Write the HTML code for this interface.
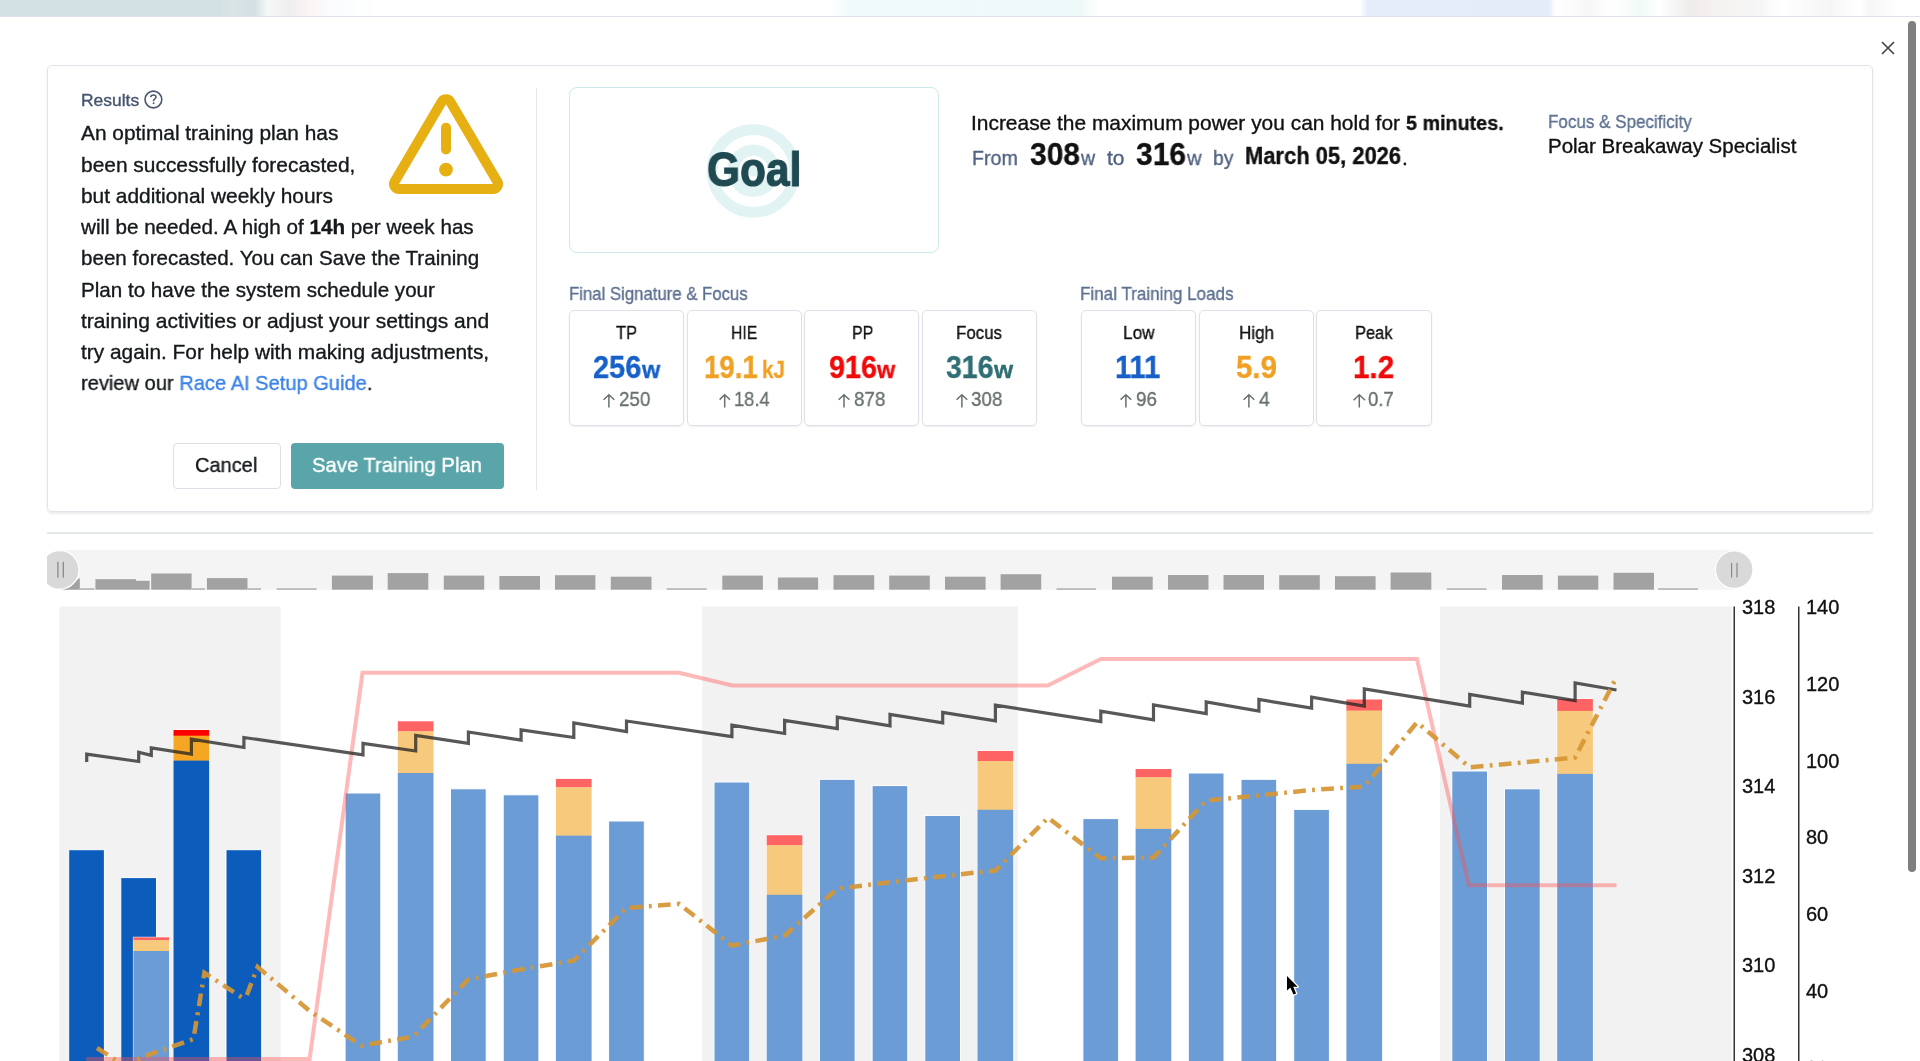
<!DOCTYPE html><html><head><meta charset="utf-8"><style>
*{margin:0;padding:0;box-sizing:border-box}
html,body{width:1920px;height:1061px;overflow:hidden;background:#fff;font-family:"Liberation Sans",sans-serif}
.t{position:absolute;white-space:pre;line-height:1;transform-origin:0 50%;will-change:transform;-webkit-text-stroke-width:0.35px}
.a{position:absolute}
b{font-weight:700}
</style></head><body>

<div class="a" style="left:0;top:0;width:1920px;height:16px;background:linear-gradient(90deg,#d3e0e4 0,#d3e0e4 218px,#d9e5e4 232px,#d3e0e4 255px,#f6f8f8 268px,#efeeee 290px,#fbf5f5 310px,#fafcfd 330px,#fff 380px,#fff 830px,#f1fafa 850px,#eef9f9 1080px,#fff 1100px,#fff 1360px,#e4edf9 1368px,#e3ecf8 1548px,#fff 1556px,#f7f7f7 1590px,#fff 1610px,#f2faf6 1640px,#fff 1660px,#efeceb 1690px,#f5f3f2 1720px,#f6f6f6 1760px,#fff 1780px,#f6f6f6 1830px,#fff 1860px,#f7f7f7 1870px,#fff 1900px)"></div>
<div class="a" style="left:0;top:16px;width:1920px;height:1px;background:#e2e1e9"></div>

<div class="a" style="left:1908px;top:21px;width:8px;height:851px;border-radius:4px;background:#7f7f7f"></div>
<svg class="a" style="left:1880px;top:40px" width="16" height="16" viewBox="0 0 16 16"><path d="M2 2L14 14M14 2L2 14" stroke="#3b4446" stroke-width="1.6"/></svg>
<div class="a" style="left:47px;top:65px;width:1826px;height:447px;border:1px solid #e2e4ea;border-radius:5px;box-shadow:0 1.5px 2.5px rgba(0,0,0,0.08)"></div>
<div class="a" style="left:536px;top:88px;width:1px;height:402px;background:#e3e6ea"></div>
<div class="t" style="left:80.60px;top:92.13px;font-size:16.5px;color:#45546e;transform:scaleX(1.0567);">Results</div>
<svg class="a" style="left:143px;top:89px" width="21" height="21" viewBox="0 0 21 21"><circle cx="10.4" cy="10.5" r="8.4" fill="none" stroke="#4a5670" stroke-width="1.6"/><path d="M7.6 8.2C7.8 6.7 9 5.9 10.4 5.9C11.9 5.9 13 6.8 13 8.1C13 9.6 11.2 10 10.6 11.3V12.3" fill="none" stroke="#4a5670" stroke-width="1.5"/><circle cx="10.6" cy="14.3" r="0.95" fill="#4a5670"/></svg>
<div class="t" style="left:80.50px;top:123.33px;font-size:20.4px;color:#15191c;transform:scaleX(1.0227);">An optimal training plan has</div>
<div class="t" style="left:80.50px;top:154.59px;font-size:20.4px;color:#15191c;transform:scaleX(1.0258);">been successfully forecasted,</div>
<div class="t" style="left:80.50px;top:185.85px;font-size:20.4px;color:#15191c;transform:scaleX(1.0241);">but additional weekly hours</div>
<div class="t" style="left:80.55px;top:217.11px;font-size:20.4px;color:#15191c;transform:scaleX(1.0129);">will be needed. A high of <b>14h</b> per week has</div>
<div class="t" style="left:80.50px;top:248.37px;font-size:20.4px;color:#15191c;transform:scaleX(1.0091);">been forecasted. You can Save the Training</div>
<div class="t" style="left:80.50px;top:279.63px;font-size:20.4px;color:#15191c;transform:scaleX(1.0105);">Plan to have the system schedule your</div>
<div class="t" style="left:80.50px;top:310.89px;font-size:20.4px;color:#15191c;transform:scaleX(1.0317);">training activities or adjust your settings and</div>
<div class="t" style="left:80.50px;top:342.15px;font-size:20.4px;color:#15191c;transform:scaleX(1.0230);">try again. For help with making adjustments,</div>
<div class="t" style="left:80.50px;top:373.41px;font-size:20.4px;color:#15191c;transform:scaleX(0.9850);">review our <span style="color:#3b82e6">Race AI Setup Guide</span>.</div>
<svg class="a" style="left:385px;top:90px" width="124" height="110" viewBox="385 90 124 110">
<path d="M450.31 101.82 L497.26 181.56 A5 5 0 0 1 492.95 189.10 L399.05 189.10 A5 5 0 0 1 394.74 181.56 L441.69 101.82 A5 5 0 0 1 450.31 101.82Z" fill="none" stroke="#e6b012" stroke-width="10"/>
<rect x="441" y="122.8" width="10" height="31.7" rx="5" fill="#e6b012"/>
<circle cx="446" cy="169.6" r="6.9" fill="#e6b012"/>
</svg>
<div class="a" style="left:172.5px;top:442.5px;width:108px;height:46px;border:1px solid #dcdfe4;border-radius:4px;background:#fff"></div>
<div class="t" style="left:195.20px;top:454.53px;font-size:20.4px;color:#15191c;transform:scaleX(0.9812);">Cancel</div>
<div class="a" style="left:291.4px;top:442.5px;width:212.6px;height:46px;border-radius:4px;background:#5aa5a9"></div>
<div class="t" style="left:312.20px;top:454.53px;font-size:20.4px;color:#ffffff;transform:scaleX(0.9932);">Save Training Plan</div>
<div class="a" style="left:568.5px;top:87.3px;width:370px;height:166.2px;border:1px solid #cdeaea;border-radius:8px"></div>
<svg class="a" style="left:700px;top:118px" width="110" height="110" viewBox="700 118 110 110">
<circle cx="753.4" cy="171" r="41.3" fill="none" stroke="#e2f3f3" stroke-width="10.8"/>
<circle cx="753.4" cy="170.6" r="20.5" fill="none" stroke="#e2f3f3" stroke-width="11.4"/>
<circle cx="753.4" cy="170.6" r="6" fill="#e2f3f3"/>
</svg>
<div class="t" style="left:706.60px;top:145.89px;font-size:47.5px;color:#1f4a52;font-weight:700;transform:scaleX(0.8923);-webkit-text-stroke:1.2px #1f4a52;">Goal</div>
<div class="t" style="left:971.10px;top:112.82px;font-size:20.3px;color:#111;transform:scaleX(1.0313);">Increase the maximum power you can hold for</div>
<div class="t" style="left:1405.60px;top:112.62px;font-size:20.3px;color:#111;font-weight:700;transform:scaleX(0.9733);">5 minutes.</div>
<div class="t" style="left:971.60px;top:147.12px;font-size:21px;color:#4f6180;transform:scaleX(0.9371);">From</div>
<div class="t" style="left:1030.20px;top:137.64px;font-size:32.2px;color:#111;font-weight:700;transform:scaleX(0.9312);">308</div>
<div class="t" style="left:1081.05px;top:147.12px;font-size:21px;color:#4f6180;transform:scaleX(0.9295);">w</div>
<div class="t" style="left:1106.50px;top:147.12px;font-size:21px;color:#4f6180;transform:scaleX(0.9980);">to</div>
<div class="t" style="left:1135.90px;top:137.64px;font-size:32.2px;color:#111;font-weight:700;transform:scaleX(0.9312);">316</div>
<div class="t" style="left:1186.65px;top:147.12px;font-size:21px;color:#4f6180;transform:scaleX(0.9622);">w</div>
<div class="t" style="left:1212.90px;top:147.12px;font-size:21px;color:#4f6180;transform:scaleX(0.9208);">by</div>
<div class="t" style="left:1245.20px;top:145.08px;font-size:23.3px;color:#111;font-weight:700;transform:scaleX(0.9416);">March 05, 2026</div>
<div class="t" style="left:1402.00px;top:147.02px;font-size:21px;color:#111;">.</div>
<div class="t" style="left:1547.50px;top:112.42px;font-size:19px;color:#5d7090;transform:scaleX(0.8956);">Focus & Specificity</div>
<div class="t" style="left:1547.50px;top:136.52px;font-size:19.7px;color:#111;transform:scaleX(1.0410);">Polar Breakaway Specialist</div>
<div class="t" style="left:568.90px;top:285.46px;font-size:18.6px;color:#5d7090;transform:scaleX(0.9002);">Final Signature & Focus</div>
<div class="t" style="left:1080.30px;top:285.06px;font-size:18.6px;color:#5d7090;transform:scaleX(0.9171);">Final Training Loads</div>
<div class="a" style="left:568.8px;top:310px;width:115.6px;height:115.6px;border:1px solid #dde1e7;border-radius:5px;box-shadow:0 1px 2px rgba(0,0,0,0.07)"></div>
<div class="t" style="left:616.25px;top:323.67px;font-size:18.7px;color:#111;transform:scaleX(0.8791);">TP</div>
<div class="t" style="left:593.10px;top:351.97px;font-size:31.7px;color:#1660c8;font-weight:700;transform:scaleX(0.9156);">256</div>
<div class="t" style="left:642.32px;top:358.48px;font-size:24px;color:#1660c8;font-weight:700;transform:scaleX(0.9766);">w</div>
<svg class="a" style="left:601.1px;top:391.5px" width="15.9" height="17.5" viewBox="601.1 391.5 15.9 17.5"><path d="M609.0 407.0V394.3M603.7 399.2L609.0 394.3L614.4 399.2" fill="none" stroke="#67706e" stroke-width="1.5"/></svg>
<div class="t" style="left:618.75px;top:388.59px;font-size:20.8px;color:#67706e;transform:scaleX(0.9010);">250</div>
<div class="a" style="left:686.5px;top:310px;width:115.4px;height:115.6px;border:1px solid #dde1e7;border-radius:5px;box-shadow:0 1px 2px rgba(0,0,0,0.07)"></div>
<div class="t" style="left:731.25px;top:323.67px;font-size:18.7px;color:#111;transform:scaleX(0.8418);">HIE</div>
<div class="t" style="left:704.40px;top:351.97px;font-size:31.7px;color:#f0a125;font-weight:700;transform:scaleX(0.8731);">19.1</div>
<div class="t" style="left:762.20px;top:358.48px;font-size:24px;color:#f0a125;font-weight:700;transform:scaleX(0.8633);">kJ</div>
<svg class="a" style="left:716.5px;top:391.5px" width="15.5" height="17.5" viewBox="716.5 391.5 15.5 17.5"><path d="M724.2 407.0V394.3M719.1 399.1L724.2 394.3L729.4 399.1" fill="none" stroke="#67706e" stroke-width="1.5"/></svg>
<div class="t" style="left:734.40px;top:388.59px;font-size:20.8px;color:#67706e;transform:scaleX(0.8788);">18.4</div>
<div class="a" style="left:804.4px;top:310px;width:115.0px;height:115.6px;border:1px solid #dde1e7;border-radius:5px;box-shadow:0 1px 2px rgba(0,0,0,0.07)"></div>
<div class="t" style="left:851.50px;top:323.67px;font-size:18.7px;color:#111;transform:scaleX(0.8512);">PP</div>
<div class="t" style="left:828.50px;top:351.97px;font-size:31.7px;color:#f00a0a;font-weight:700;transform:scaleX(0.9081);">916</div>
<div class="t" style="left:877.32px;top:358.48px;font-size:24px;color:#f00a0a;font-weight:700;transform:scaleX(0.9766);">w</div>
<svg class="a" style="left:836.0px;top:391.5px" width="16.0" height="17.5" viewBox="836.0 391.5 16.0 17.5"><path d="M844.0 407.0V394.3M838.6 399.3L844.0 394.3L849.4 399.3" fill="none" stroke="#67706e" stroke-width="1.5"/></svg>
<div class="t" style="left:853.75px;top:388.59px;font-size:20.8px;color:#67706e;transform:scaleX(0.9010);">878</div>
<div class="a" style="left:921.5px;top:310px;width:115.4px;height:115.6px;border:1px solid #dde1e7;border-radius:5px;box-shadow:0 1px 2px rgba(0,0,0,0.07)"></div>
<div class="t" style="left:956.25px;top:323.67px;font-size:18.7px;color:#111;transform:scaleX(0.9035);">Focus</div>
<div class="t" style="left:945.60px;top:351.97px;font-size:31.7px;color:#2f6e74;font-weight:700;transform:scaleX(0.8986);">316</div>
<div class="t" style="left:993.92px;top:358.48px;font-size:24px;color:#2f6e74;font-weight:700;transform:scaleX(1.0244);">w</div>
<svg class="a" style="left:953.6px;top:391.5px" width="15.9" height="17.5" viewBox="953.6 391.5 15.9 17.5"><path d="M961.5 407.0V394.3M956.2 399.2L961.5 394.3L966.9 399.2" fill="none" stroke="#67706e" stroke-width="1.5"/></svg>
<div class="t" style="left:971.25px;top:388.59px;font-size:20.8px;color:#67706e;transform:scaleX(0.9010);">308</div>
<div class="a" style="left:1080.6px;top:310px;width:115.9px;height:115.6px;border:1px solid #dde1e7;border-radius:5px;box-shadow:0 1px 2px rgba(0,0,0,0.07)"></div>
<div class="t" style="left:1123.10px;top:323.67px;font-size:18.7px;color:#111;transform:scaleX(0.9211);">Low</div>
<div class="t" style="left:1114.75px;top:351.97px;font-size:31.7px;color:#1660c8;font-weight:700;transform:scaleX(0.9165);">111</div>
<svg class="a" style="left:1118.2px;top:391.5px" width="15.7" height="17.5" viewBox="1118.2 391.5 15.7 17.5"><path d="M1126.1 407.0V394.3M1120.8 399.1L1126.1 394.3L1131.3 399.1" fill="none" stroke="#67706e" stroke-width="1.5"/></svg>
<div class="t" style="left:1135.90px;top:388.59px;font-size:20.8px;color:#67706e;transform:scaleX(0.9075);">96</div>
<div class="a" style="left:1198.8px;top:310px;width:115.0px;height:115.6px;border:1px solid #dde1e7;border-radius:5px;box-shadow:0 1px 2px rgba(0,0,0,0.07)"></div>
<div class="t" style="left:1238.75px;top:323.67px;font-size:18.7px;color:#111;transform:scaleX(0.9097);">High</div>
<div class="t" style="left:1235.60px;top:351.97px;font-size:31.7px;color:#f0a125;font-weight:700;transform:scaleX(0.9282);">5.9</div>
<svg class="a" style="left:1241.1px;top:391.5px" width="15.9" height="17.5" viewBox="1241.1 391.5 15.9 17.5"><path d="M1249.0 407.0V394.3M1243.7 399.3L1249.0 394.3L1254.4 399.3" fill="none" stroke="#67706e" stroke-width="1.5"/></svg>
<div class="t" style="left:1258.50px;top:388.59px;font-size:20.8px;color:#67706e;transform:scaleX(0.9442);">4</div>
<div class="a" style="left:1316.2px;top:310px;width:116.0px;height:115.6px;border:1px solid #dde1e7;border-radius:5px;box-shadow:0 1px 2px rgba(0,0,0,0.07)"></div>
<div class="t" style="left:1355.00px;top:323.67px;font-size:18.7px;color:#111;transform:scaleX(0.8809);">Peak</div>
<div class="t" style="left:1353.40px;top:351.97px;font-size:31.7px;color:#f00a0a;font-weight:700;transform:scaleX(0.9350);">1.2</div>
<svg class="a" style="left:1350.6px;top:391.5px" width="16.7" height="17.5" viewBox="1350.6 391.5 16.7 17.5"><path d="M1358.9 407.0V394.3M1353.2 399.7L1358.9 394.3L1364.7 399.7" fill="none" stroke="#67706e" stroke-width="1.5"/></svg>
<div class="t" style="left:1368.40px;top:388.59px;font-size:20.8px;color:#67706e;transform:scaleX(0.8924);">0.7</div>
<div class="a" style="left:47px;top:532px;width:1826px;height:2px;background:#e3e8eb"></div>
<svg class="a" style="left:0;top:0" width="1920" height="1061" viewBox="0 0 1920 1061"><defs><clipPath id="clipL"><rect x="47" y="540" width="60" height="60"/></clipPath></defs><rect x="60" y="550" width="1674" height="39.7" fill="#f4f4f4"/><rect x="95.4" y="579.2" width="40.6" height="10.5" fill="#a2a2a2"/><rect x="136.0" y="580.8" width="13.6" height="8.9" fill="#a2a2a2"/><rect x="151.2" y="573.5" width="40.4" height="16.2" fill="#a2a2a2"/><rect x="206.9" y="578.1" width="40.6" height="11.6" fill="#a2a2a2"/><rect x="331.9" y="575.6" width="41.0" height="14.1" fill="#a2a2a2"/><rect x="387.7" y="573.1" width="40.6" height="16.6" fill="#a2a2a2"/><rect x="443.8" y="575.6" width="40.4" height="14.1" fill="#a2a2a2"/><rect x="499.4" y="576.0" width="40.6" height="13.7" fill="#a2a2a2"/><rect x="555.0" y="575.2" width="40.4" height="14.5" fill="#a2a2a2"/><rect x="610.8" y="576.7" width="40.7" height="13.0" fill="#a2a2a2"/><rect x="722.3" y="575.6" width="40.6" height="14.1" fill="#a2a2a2"/><rect x="777.9" y="577.5" width="40.2" height="12.2" fill="#a2a2a2"/><rect x="833.5" y="575.2" width="40.7" height="14.5" fill="#a2a2a2"/><rect x="889.2" y="575.6" width="40.6" height="14.1" fill="#a2a2a2"/><rect x="945.0" y="576.7" width="40.6" height="13.0" fill="#a2a2a2"/><rect x="1000.6" y="574.2" width="40.6" height="15.5" fill="#a2a2a2"/><rect x="1112.0" y="576.7" width="40.7" height="13.0" fill="#a2a2a2"/><rect x="1168.0" y="575.0" width="40.5" height="14.7" fill="#a2a2a2"/><rect x="1223.5" y="575.0" width="40.5" height="14.7" fill="#a2a2a2"/><rect x="1279.2" y="575.2" width="40.6" height="14.5" fill="#a2a2a2"/><rect x="1335.0" y="576.2" width="40.6" height="13.5" fill="#a2a2a2"/><rect x="1390.6" y="572.5" width="40.7" height="17.2" fill="#a2a2a2"/><rect x="1502.0" y="575.0" width="40.7" height="14.7" fill="#a2a2a2"/><rect x="1557.9" y="575.6" width="40.4" height="14.1" fill="#a2a2a2"/><rect x="1613.5" y="572.8" width="40.5" height="16.9" fill="#a2a2a2"/><rect x="80.0" y="588.4" width="14.4" height="1.3" fill="#a2a2a2"/><rect x="191.7" y="588.4" width="13.1" height="1.3" fill="#a2a2a2"/><rect x="247.5" y="588.4" width="13.5" height="1.3" fill="#a2a2a2"/><rect x="276.7" y="588.4" width="40.0" height="1.3" fill="#a2a2a2"/><rect x="666.7" y="588.4" width="40.0" height="1.3" fill="#a2a2a2"/><rect x="1056.5" y="588.4" width="39.5" height="1.3" fill="#a2a2a2"/><rect x="1446.9" y="588.4" width="39.6" height="1.3" fill="#a2a2a2"/><rect x="1658.0" y="588.4" width="39.9" height="1.3" fill="#a2a2a2"/><path d="M62 589.7L79.8 577.9V589.7Z" fill="#a2a2a2"/><g clip-path="url(#clipL)"><circle cx="59.7" cy="569.9" r="19.3" fill="#d9d9d9" stroke="#fff" stroke-width="1.2"/><rect x="57.2" y="561.8" width="1.4" height="15.8" fill="#8f8f8f"/><rect x="62.6" y="561.8" width="1.4" height="15.8" fill="#8f8f8f"/></g><circle cx="1734.2" cy="569.7" r="18.75" fill="#d9d9d9" stroke="#fff" stroke-width="1.2"/><rect x="1731" y="562.9" width="1.2" height="14.6" fill="#8a8a8a"/><rect x="1736.4" y="562.9" width="1.2" height="14.6" fill="#8a8a8a"/><rect x="59.5" y="606.5" width="221.1" height="460" fill="#f2f2f2"/><rect x="702.3" y="606.5" width="315.5" height="460" fill="#f2f2f2"/><rect x="1440" y="606.5" width="291.7" height="460" fill="#f2f2f2"/><rect x="68.70" y="849.70" width="35.7" height="220.30" fill="#0b5cbb" stroke="#fff" stroke-width="1"/><rect x="120.80" y="877.60" width="35.7" height="192.40" fill="#0b5cbb" stroke="#fff" stroke-width="1"/><rect x="133.40" y="937.30" width="35.7" height="132.70" fill="#fff" stroke="#fff" stroke-width="1"/><rect x="133.40" y="937.30" width="35.7" height="3.20" fill="#ff6464"/><rect x="133.40" y="940.20" width="35.7" height="11.10" fill="#f7c97c"/><rect x="133.40" y="951.00" width="35.7" height="119.00" fill="#6b9cd6"/><rect x="173.50" y="730.00" width="35.7" height="340.00" fill="#fff" stroke="#fff" stroke-width="1"/><rect x="173.50" y="730.00" width="35.7" height="6.00" fill="#ff0000"/><rect x="173.50" y="735.70" width="35.7" height="25.20" fill="#f5a623"/><rect x="173.50" y="760.60" width="35.7" height="309.40" fill="#0b5cbb"/><rect x="226.00" y="849.70" width="35.7" height="220.30" fill="#0b5cbb" stroke="#fff" stroke-width="1"/><rect x="345.10" y="793.00" width="35.7" height="277.00" fill="#6b9cd6" stroke="#fff" stroke-width="1"/><rect x="397.80" y="721.30" width="35.7" height="348.70" fill="#fff" stroke="#fff" stroke-width="1"/><rect x="397.80" y="721.30" width="35.7" height="10.30" fill="#ff6464"/><rect x="397.80" y="731.30" width="35.7" height="42.00" fill="#f7c97c"/><rect x="397.80" y="773.00" width="35.7" height="297.00" fill="#6b9cd6"/><rect x="450.50" y="788.80" width="35.7" height="281.20" fill="#6b9cd6" stroke="#fff" stroke-width="1"/><rect x="503.20" y="794.80" width="35.7" height="275.20" fill="#6b9cd6" stroke="#fff" stroke-width="1"/><rect x="555.90" y="778.90" width="35.7" height="291.10" fill="#fff" stroke="#fff" stroke-width="1"/><rect x="555.90" y="778.90" width="35.7" height="8.60" fill="#ff6464"/><rect x="555.90" y="787.20" width="35.7" height="48.70" fill="#f7c97c"/><rect x="555.90" y="835.60" width="35.7" height="234.40" fill="#6b9cd6"/><rect x="608.60" y="821.00" width="35.7" height="249.00" fill="#6b9cd6" stroke="#fff" stroke-width="1"/><rect x="714.00" y="782.00" width="35.7" height="288.00" fill="#6b9cd6" stroke="#fff" stroke-width="1"/><rect x="766.70" y="835.20" width="35.7" height="234.80" fill="#fff" stroke="#fff" stroke-width="1"/><rect x="766.70" y="835.20" width="35.7" height="10.30" fill="#ff6464"/><rect x="766.70" y="845.20" width="35.7" height="49.90" fill="#f7c97c"/><rect x="766.70" y="894.80" width="35.7" height="175.20" fill="#6b9cd6"/><rect x="819.40" y="779.30" width="35.7" height="290.70" fill="#6b9cd6" stroke="#fff" stroke-width="1"/><rect x="872.10" y="785.60" width="35.7" height="284.40" fill="#6b9cd6" stroke="#fff" stroke-width="1"/><rect x="924.80" y="815.40" width="35.7" height="254.60" fill="#6b9cd6" stroke="#fff" stroke-width="1"/><rect x="977.50" y="751.00" width="35.7" height="319.00" fill="#fff" stroke="#fff" stroke-width="1"/><rect x="977.50" y="751.00" width="35.7" height="10.30" fill="#ff6464"/><rect x="977.50" y="761.00" width="35.7" height="49.10" fill="#f7c97c"/><rect x="977.50" y="809.80" width="35.7" height="260.20" fill="#6b9cd6"/><rect x="1082.90" y="818.60" width="35.7" height="251.40" fill="#6b9cd6" stroke="#fff" stroke-width="1"/><rect x="1135.60" y="769.00" width="35.7" height="301.00" fill="#fff" stroke="#fff" stroke-width="1"/><rect x="1135.60" y="769.00" width="35.7" height="8.60" fill="#ff6464"/><rect x="1135.60" y="777.30" width="35.7" height="51.90" fill="#f7c97c"/><rect x="1135.60" y="828.90" width="35.7" height="241.10" fill="#6b9cd6"/><rect x="1188.30" y="773.00" width="35.7" height="297.00" fill="#6b9cd6" stroke="#fff" stroke-width="1"/><rect x="1241.00" y="779.30" width="35.7" height="290.70" fill="#6b9cd6" stroke="#fff" stroke-width="1"/><rect x="1293.70" y="809.40" width="35.7" height="260.60" fill="#6b9cd6" stroke="#fff" stroke-width="1"/><rect x="1346.40" y="699.50" width="35.7" height="370.50" fill="#fff" stroke="#fff" stroke-width="1"/><rect x="1346.40" y="699.50" width="35.7" height="11.40" fill="#ff6464"/><rect x="1346.40" y="710.60" width="35.7" height="53.50" fill="#f7c97c"/><rect x="1346.40" y="763.80" width="35.7" height="306.20" fill="#6b9cd6"/><rect x="1451.80" y="771.00" width="35.7" height="299.00" fill="#6b9cd6" stroke="#fff" stroke-width="1"/><rect x="1504.50" y="788.80" width="35.7" height="281.20" fill="#6b9cd6" stroke="#fff" stroke-width="1"/><rect x="1557.20" y="699.00" width="35.7" height="371.00" fill="#fff" stroke="#fff" stroke-width="1"/><rect x="1557.20" y="699.00" width="35.7" height="12.20" fill="#ff6464"/><rect x="1557.20" y="710.90" width="35.7" height="63.30" fill="#f7c97c"/><rect x="1557.20" y="773.90" width="35.7" height="296.10" fill="#6b9cd6"/><polyline points="86.2,1059 309.6,1059 362.5,672.7 679,672.7 732.3,685.5 1047.7,685.5 1100.8,659 1417,659 1468.9,885.2 1616.5,885.2" fill="none" stroke="rgba(255,80,80,0.4)" stroke-width="4" stroke-linejoin="miter"/><polyline points="86.7,762 86.7,754.2 138.7,761.5 138.7,752.3 151.3,755.4 151.3,747.9 191.4,754.2 191.4,739.2 243.9,747.5 243.9,737.5 363,754.8 363,743.3 415.7,751 415.7,735.4 468.4,743.3 468.4,732 521.1,740.2 521.1,729.8 573.8,737.5 573.8,722.9 626.5,731.5 626.5,721 731.9,736.7 731.9,725.2 784.6,733.5 784.6,720.4 837.3,728.6 837.3,717.2 890,725.8 890,714.4 942.7,722.9 942.7,712.3 995.4,720.8 995.4,705.2 1100.8,721.7 1100.8,711.25 1153.5,719.8 1153.5,705 1206.2,713.6 1206.2,701.9 1258.9,711 1258.9,699.5 1311.6,708.2 1311.6,697.2 1364.3,706 1364.3,688.8 1469.7,706 1469.7,694.5 1522.4,703 1522.4,692.2 1575.1,700.7 1575.1,683 1616.5,690" fill="none" stroke="rgba(35,35,35,0.76)" stroke-width="3.2" stroke-linejoin="miter"/><polyline points="97,1048 125,1066 145,1056 193.4,1039.2 204.4,972.8 242.3,997.6 246.7,995.4 257.6,967 309.7,1011 361.3,1045.6 413,1036.8 468.4,979.3 521.1,969.4 573.8,960.6 626.5,907.9 679.2,903.9 731.9,945.6 784.6,935.6 837.3,888.6 890,882.3 942.7,876.2 995.4,870.5 1048.1,817.8 1100.8,858.3 1153.5,857.5 1206.2,800.5 1258.9,795.5 1311.6,790 1364.3,786.5 1417,722.3 1469.7,767.3 1522.4,762.5 1575.1,757.5 1616.5,677.3" fill="none" stroke="rgba(214,150,52,0.92)" stroke-width="4.5" stroke-dasharray="12.7 6.3 2.8 6.3" stroke-linejoin="miter"/><rect x="1733.5" y="606.5" width="1.5" height="460" fill="#333"/><rect x="1798" y="606.5" width="1.5" height="460" fill="#333"/></svg>
<div class="t" style="left:1742.20px;top:596.97px;font-size:20px;color:#111;">318</div>
<div class="t" style="left:1742.20px;top:686.57px;font-size:20px;color:#111;">316</div>
<div class="t" style="left:1742.20px;top:776.17px;font-size:20px;color:#111;">314</div>
<div class="t" style="left:1742.20px;top:865.77px;font-size:20px;color:#111;">312</div>
<div class="t" style="left:1742.20px;top:955.37px;font-size:20px;color:#111;">310</div>
<div class="t" style="left:1742.20px;top:1044.97px;font-size:20px;color:#111;">308</div>
<div class="t" style="left:1805.90px;top:596.97px;font-size:20px;color:#111;">140</div>
<div class="t" style="left:1805.90px;top:673.75px;font-size:20px;color:#111;">120</div>
<div class="t" style="left:1805.90px;top:750.53px;font-size:20px;color:#111;">100</div>
<div class="t" style="left:1805.90px;top:827.31px;font-size:20px;color:#111;">80</div>
<div class="t" style="left:1805.90px;top:904.09px;font-size:20px;color:#111;">60</div>
<div class="t" style="left:1805.90px;top:980.87px;font-size:20px;color:#111;">40</div>
<div class="t" style="left:1805.90px;top:1057.65px;font-size:20px;color:#111;">20</div>
<svg class="a" style="left:1283.6px;top:973.2px" width="18" height="25" viewBox="-3 -3 18 25">
<path d="M0 0V14.6L3.3 11.6L6.5 18.6L9.1 17.5L6.2 10.8H10.6Z" fill="#fff" stroke="#fff" stroke-width="2.6" stroke-linejoin="round"/><path d="M0 0V14.6L3.3 11.6L6.5 18.6L9.1 17.5L6.2 10.8H10.6Z" fill="#000"/></svg>
</body></html>
